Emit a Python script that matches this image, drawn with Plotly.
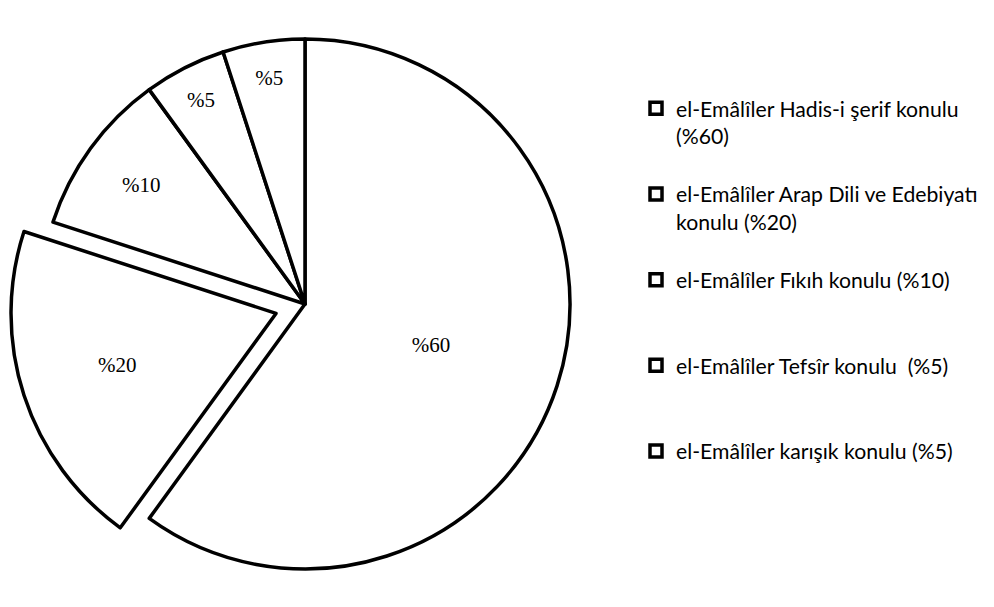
import plotly.graph_objects as go

categories = [
    "el-Emâlîler Hadis-i şerif konulu<br>(%60)",
    "el-Emâlîler Arap Dili ve Edebiyatı<br>konulu (%20)",
    "el-Emâlîler Fıkıh konulu (%10)",
    "el-Emâlîler Tefsîr konulu  (%5)",
    "el-Emâlîler karışık konulu (%5)",
]
values = [60, 20, 10, 5, 5]
slice_labels = ["%60", "%20", "%10", "%5", "%5"]
pulls = [0, 0.115, 0, 0, 0]

# pad legend entries so every entry takes the same height (as in the reference)
line_counts = [c.count("<br>") + 1 for c in categories]
legend_names = [c + "<br>\u00a0" * (3 - n) for c, n in zip(categories, line_counts)]

W, H = 994, 607
cx, cy, r = 297, 296, 265  # figure pixel coords (page is offset by body margin)
box = 2 * r * (1 + max(pulls))

fig = go.Figure(
    go.Pie(
        labels=legend_names,
        values=values,
        text=slice_labels,
        textinfo="text",
        textposition="inside",
        insidetextorientation="horizontal",
        textfont=dict(family="Liberation Serif", size=21, color="black"),
        sort=False,
        direction="clockwise",
        rotation=0,
        pull=pulls,
        marker=dict(colors=["white"] * 5, line=dict(color="black", width=3.5)),
        domain=dict(
            x=[max(0, (cx - box / 2) / W), min(1, (cx + box / 2) / W)],
            y=[max(0, 1 - (cy + box / 2) / H), min(1, 1 - (cy - box / 2) / H)],
        ),
        hoverinfo="skip",
    )
)

fig.update_layout(
    width=W,
    height=H,
    margin=dict(l=0, r=0, t=0, b=0),
    paper_bgcolor="white",
    plot_bgcolor="white",
    showlegend=True,
    legend=dict(
        x=628 / W,
        y=1 - 80 / H,
        xanchor="left",
        yanchor="top",
        valign="top",
        font=dict(family="Lato", size=21.2, color="black"),
        bgcolor="rgba(0,0,0,0)",
        tracegroupgap=0,
    ),
)

fig.write_html("out.html")
